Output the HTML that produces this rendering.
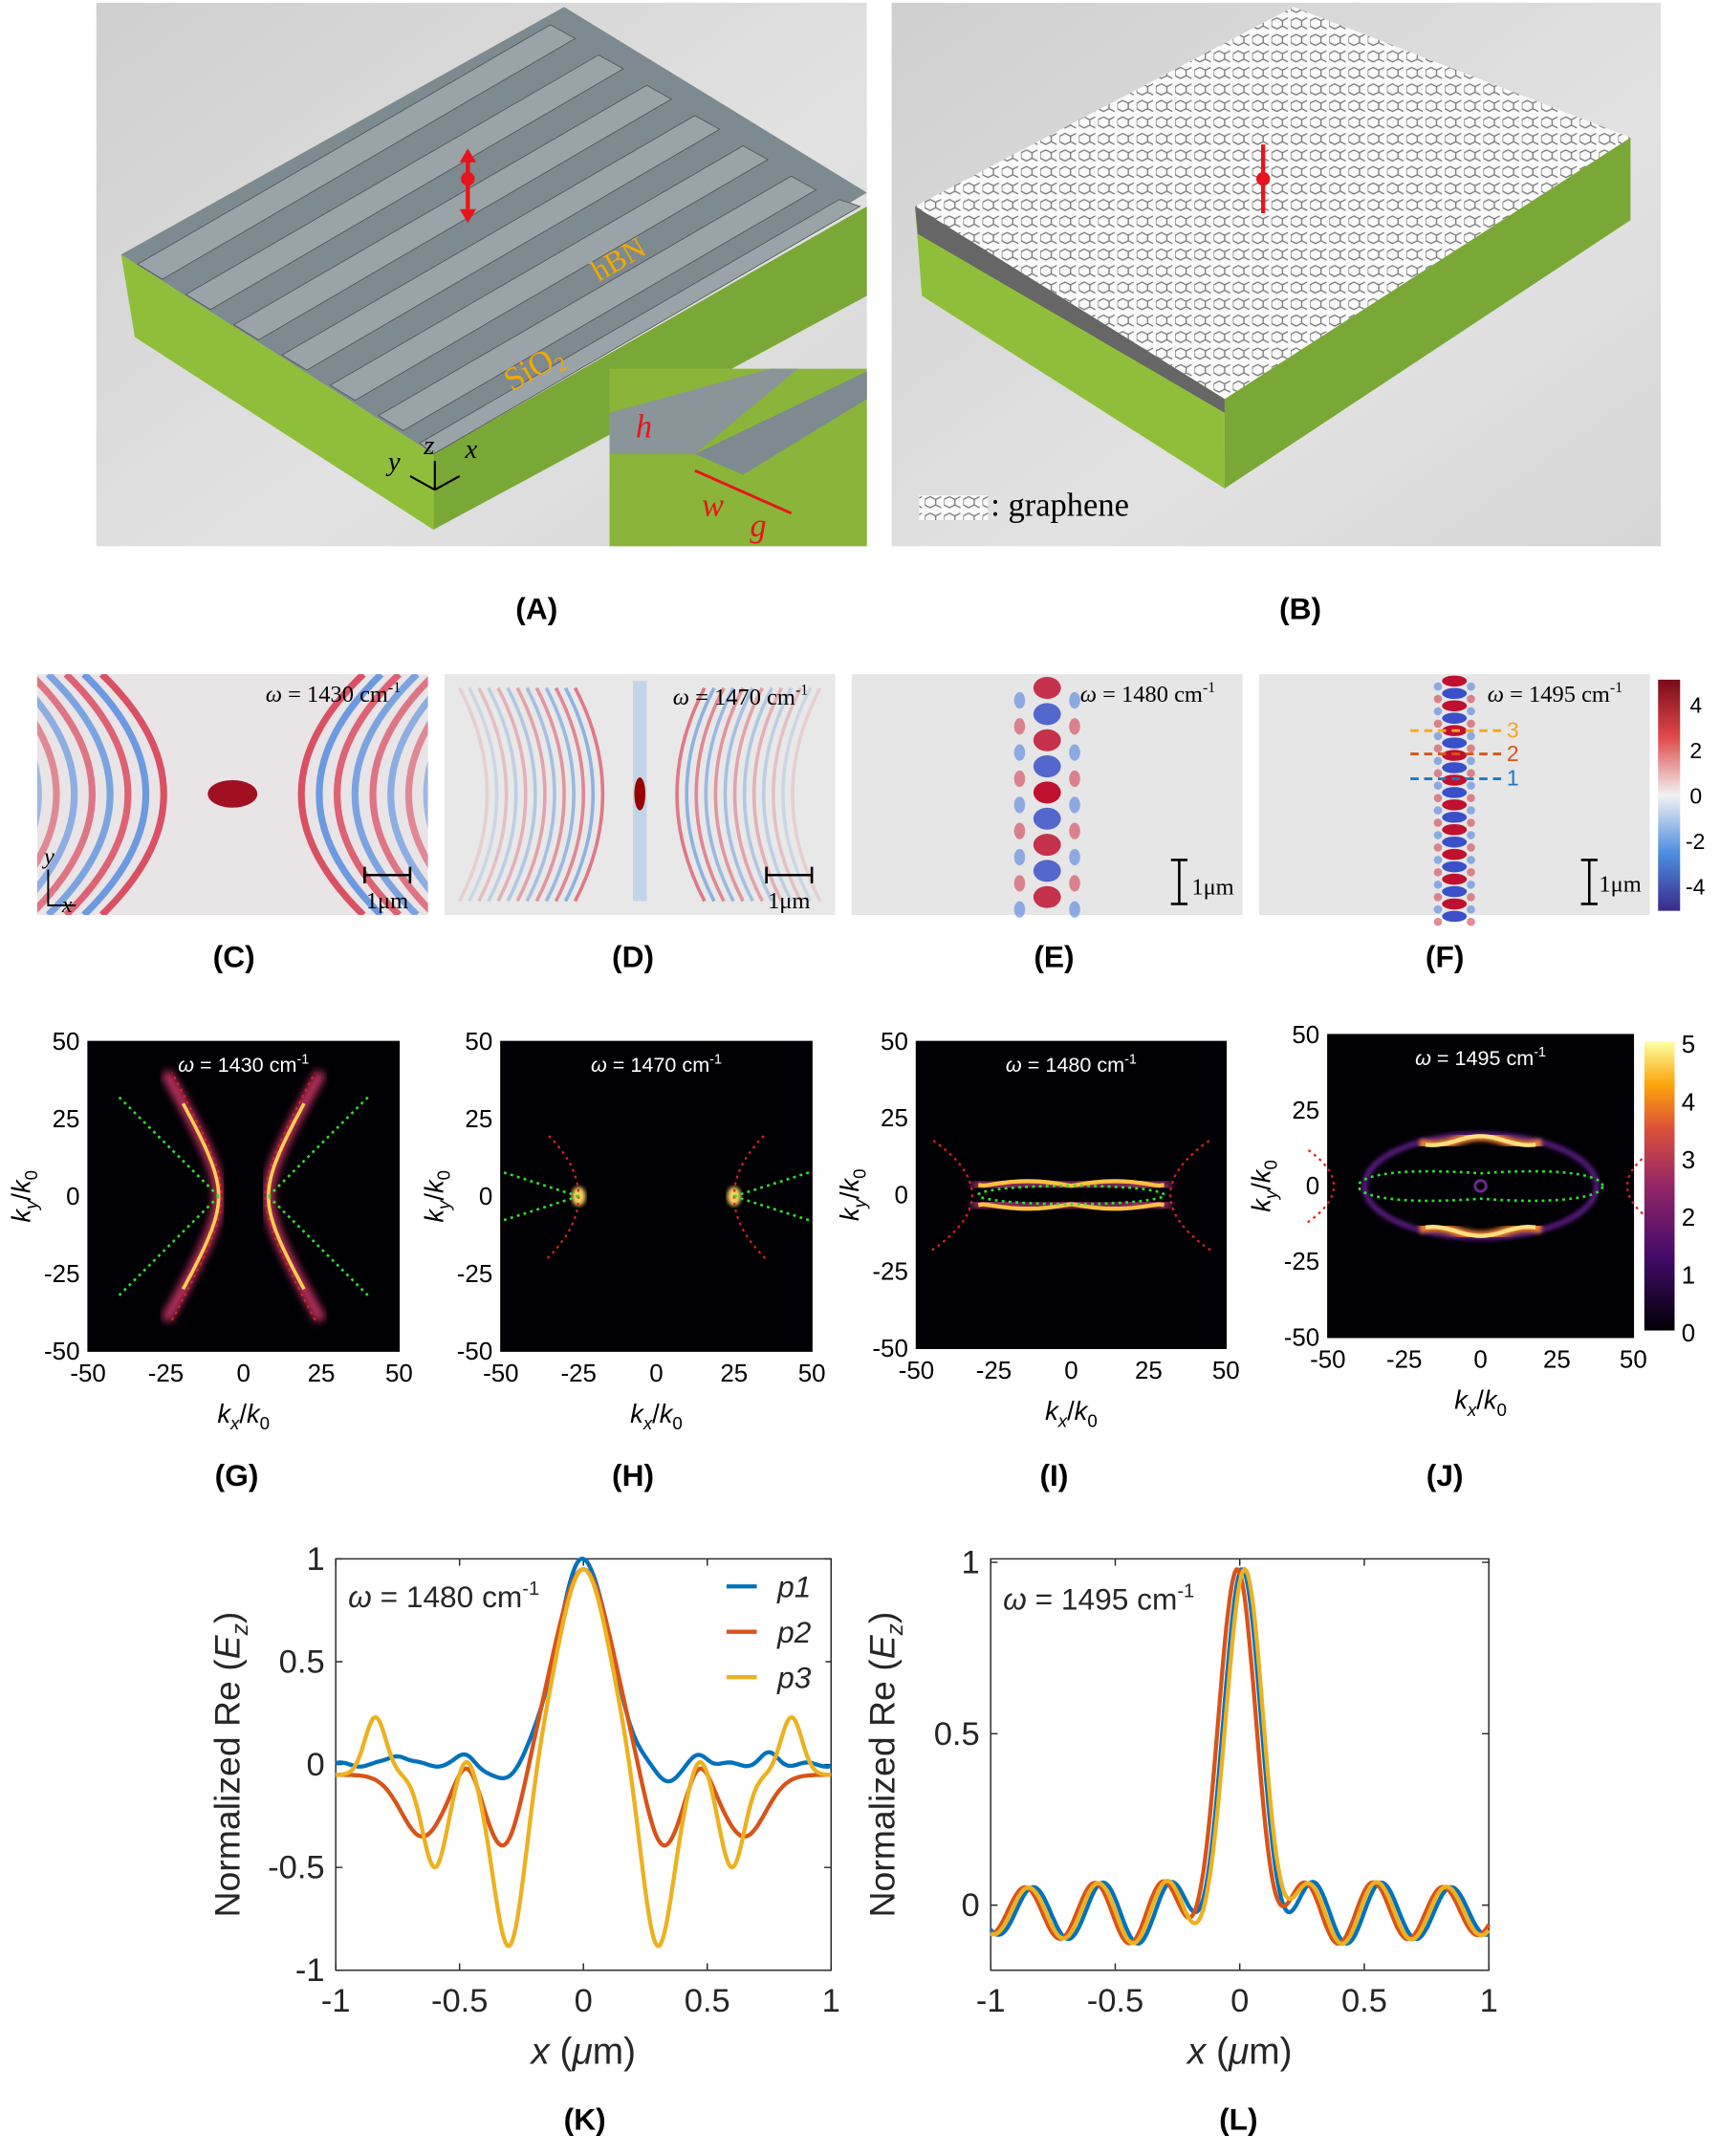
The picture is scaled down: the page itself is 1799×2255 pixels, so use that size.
<!DOCTYPE html>
<html><head><meta charset="utf-8"><style>
html,body{margin:0;padding:0;background:#fff;}
svg{display:block;font-family:"Liberation Sans",sans-serif;}
</style></head><body>
<svg id="s" width="1799" height="2255" viewBox="0 0 1250 1567" preserveAspectRatio="none" xmlns="http://www.w3.org/2000/svg">
<defs>
<linearGradient id="bgA" x1="0" y1="0" x2="1" y2="1"><stop offset="0" stop-color="#cfcfcf"/><stop offset="0.6" stop-color="#e2e2e2"/><stop offset="1" stop-color="#d6d6d6"/></linearGradient>
<pattern id="hex" width="14" height="12" patternUnits="userSpaceOnUse"><rect width="14" height="12" fill="#fafafa"/><path d="M0 3 L4 1 L8 3 L8 7 L4 9 L0 7Z M8 3 L12 1 M8 7 L12 9" fill="none" stroke="#777" stroke-width="0.9"/></pattern>
<linearGradient id="inf" x1="0" y1="1" x2="0" y2="0"><stop offset="0" stop-color="#000004"/><stop offset="0.25" stop-color="#420a68"/><stop offset="0.5" stop-color="#932667"/><stop offset="0.7" stop-color="#dd513a"/><stop offset="0.85" stop-color="#fca50a"/><stop offset="1" stop-color="#fcffa4"/></linearGradient>
<linearGradient id="rb" x1="0" y1="1" x2="0" y2="0"><stop offset="0" stop-color="#3a2a8a"/><stop offset="0.25" stop-color="#4d8ee0"/><stop offset="0.5" stop-color="#f2f2f2"/><stop offset="0.75" stop-color="#e04a4a"/><stop offset="1" stop-color="#7a0a1a"/></linearGradient>
<filter id="gl"><feGaussianBlur stdDeviation="1.5"/></filter>
<filter id="gl2"><feGaussianBlur stdDeviation="3"/></filter>
<clipPath id="cC"><rect x="27" y="490" width="284" height="175"/></clipPath>
<clipPath id="cD"><rect x="323" y="490" width="284" height="175"/></clipPath>
</defs>

<!-- Panel A -->
<rect x="70" y="2" width="560" height="395" fill="url(#bgA)"/>
<polygon points="88,185 410,5 630,140 315,330" fill="#7d8a8f"/>
<polygon points="88,185 315,330 315,385 98,245" fill="#8fbf3a"/>
<polygon points="315,330 630,150 630,215 315,385" fill="#7aa836"/>
<g fill="#9aa3a8" stroke="#555" stroke-width="0.6">
<polygon points="100,192 400,18 418,28 118,203"/>
<polygon points="135,214 435,40 453,50 153,225"/>
<polygon points="170,236 470,62 488,72 188,247"/>
<polygon points="205,258 505,84 523,94 223,269"/>
<polygon points="240,280 540,106 558,116 258,291"/>
<polygon points="275,302 575,128 593,138 293,313"/>
<polygon points="305,322 610,145 625,150 315,330"/>
</g>
<rect x="443" y="268" width="187" height="129" fill="#8ab53a"/>
<polygon points="505,330 630,270 630,290 540,345" fill="#7d8a8f"/>
<polygon points="443,300 560,268 580,268 505,330 443,330" fill="#8a9599"/>
<path d="M340 110 L340 160" stroke="#e8141b" stroke-width="3"/><circle cx="340" cy="130" r="5" fill="#e8141b"/>
<path d="M334 118 L340 108 L346 118 M334 152 L340 162 L346 152" fill="#e8141b"/>
<text x="435" y="205" fill="#f2a900" font-family="Liberation Serif" font-size="22" transform="rotate(-30 435 205)">hBN</text>
<text x="372" y="285" fill="#f2a900" font-family="Liberation Serif" font-size="24" transform="rotate(-30 372 285)">SiO<tspan font-size="15" dy="5">2</tspan></text>
<text x="462" y="318" fill="#e8141b" font-family="Liberation Serif" font-style="italic" font-size="24">h</text>
<text x="510" y="375" fill="#e8141b" font-family="Liberation Serif" font-style="italic" font-size="24">w</text>
<text x="545" y="390" fill="#e8141b" font-family="Liberation Serif" font-style="italic" font-size="24">g</text>
<path d="M505 342 L575 373" stroke="#e8141b" stroke-width="2"/>
<g font-family="Liberation Serif" font-style="italic" font-size="20"><text x="282" y="342">y</text><text x="308" y="330">z</text><text x="338" y="333">x</text></g>
<path d="M316 356 L316 335 M316 356 L298 346 M316 356 L334 346" stroke="#000" stroke-width="1.5"/>
<text x="390" y="450" font-size="22" font-weight="bold" text-anchor="middle">(A)</text>

<!-- Panel B -->
<rect x="648" y="2" width="559" height="395" fill="url(#bgA)"/>
<polygon points="665,150 940,5 1185,100 890,290" fill="url(#hex)"/>
<polygon points="665,150 890,290 890,355 670,215" fill="#8fbf3a"/>
<polygon points="890,290 1185,100 1185,160 890,355" fill="#7aa836"/>
<polygon points="665,150 890,290 890,300 667,170" fill="#666"/>
<path d="M918 105 L918 155" stroke="#e8141b" stroke-width="3"/><circle cx="918" cy="130" r="5" fill="#e8141b"/>
<rect x="668" y="360" width="50" height="18" fill="url(#hex)"/>
<text x="720" y="375" font-family="Liberation Serif" font-size="24">: graphene</text>
<text x="945" y="450" font-size="22" font-weight="bold" text-anchor="middle">(B)</text>

<!-- C-F -->
<rect x="27" y="490" width="284" height="175" fill="#e9e4e6"/>
<g clip-path="url(#cC)" id="gC"></g>
<rect x="323" y="490" width="284" height="175" fill="#e8e8e8"/>
<g clip-path="url(#cD)" id="gD"></g>
<rect x="619" y="490" width="284" height="175" fill="#e6e6e6"/>
<g id="gE"></g>
<rect x="915" y="490" width="284" height="175" fill="#e6e6e6"/>
<g id="gF"></g>
<g font-family="Liberation Serif" font-size="17">
<text x="193" y="510"><tspan font-style="italic">ω</tspan> = 1430 cm<tspan font-size="11" dy="-7">-1</tspan></text>
<text x="489" y="512"><tspan font-style="italic">ω</tspan> = 1470 cm<tspan font-size="11" dy="-7">-1</tspan></text>
<text x="785" y="510"><tspan font-style="italic">ω</tspan> = 1480 cm<tspan font-size="11" dy="-7">-1</tspan></text>
<text x="1081" y="510"><tspan font-style="italic">ω</tspan> = 1495 cm<tspan font-size="11" dy="-7">-1</tspan></text>
<text x="266" y="660">1μm</text><text x="558" y="660">1μm</text><text x="866" y="650">1μm</text><text x="1162" y="648">1μm</text>
<text x="32" y="628" font-style="italic">y</text><text x="45" y="663" font-style="italic">x</text>
</g>
<path d="M35 632 L35 658 L55 658" fill="none" stroke="#000" stroke-width="1.3"/>
<g stroke="#000" stroke-width="1.8"><path d="M265 636 L298 636 M265 630 L265 642 M298 630 L298 642"/><path d="M557 636 L590 636 M557 630 L557 642 M590 630 L590 642"/><path d="M857 625 L857 657 M851 625 L863 625 M851 657 L863 657"/><path d="M1155 625 L1155 657 M1149 625 L1161 625 M1149 657 L1161 657"/></g>
<g stroke-width="2" stroke-dasharray="6,4" font-size="15"><path d="M1025 531 L1095 531" stroke="#f5a623"/><path d="M1025 548 L1095 548" stroke="#d95319"/><path d="M1025 566 L1095 566" stroke="#1f77c4"/></g>
<text x="1095" y="536" fill="#f5a623" font-size="16">3</text><text x="1095" y="553" fill="#d95319" font-size="16">2</text><text x="1095" y="571" fill="#1f77c4" font-size="16">1</text>
<rect x="1205" y="494" width="16" height="168" fill="url(#rb)"/>
<g font-size="16"><text x="1228" y="518">4</text><text x="1228" y="551">2</text><text x="1228" y="584">0</text><text x="1225" y="617">-2</text><text x="1225" y="650">-4</text></g>
<g font-size="22" font-weight="bold" text-anchor="middle"><text x="170" y="703">(C)</text><text x="460" y="703">(D)</text><text x="766" y="703">(E)</text><text x="1050" y="703">(F)</text></g>

<!-- G-J -->
<g id="gk"></g>
<rect x="1195" y="757" width="22" height="210" fill="url(#inf)"/>
<g font-size="18"><text x="1222" y="765">5</text><text x="1222" y="807">4</text><text x="1222" y="849">3</text><text x="1222" y="891">2</text><text x="1222" y="933">1</text><text x="1222" y="975">0</text></g>
<g font-size="22" font-weight="bold" text-anchor="middle"><text x="172" y="1080">(G)</text><text x="460" y="1080">(H)</text><text x="766" y="1080">(I)</text><text x="1050" y="1080">(J)</text></g>

<!-- K L -->
<g id="gKL"></g>
<g font-size="22" font-weight="bold" text-anchor="middle"><text x="425" y="1548">(K)</text><text x="900" y="1548">(L)</text></g>
</svg>
<script>
var NS="http://www.w3.org/2000/svg";
function el(p,t,a,txt){var e=document.createElementNS(NS,t);for(var k in a)e.setAttribute(k,a[k]);if(txt!=null)e.textContent=txt;document.getElementById(p).appendChild(e);return e;}
// C: hyperbolic arcs
for(var i=1;i<14;i++){for(var s of[-1,1]){var cx=169+s*(i*13+12),col=i%2?"#d9465a":"#5a8ee0";
 el("gC","path",{d:"M"+(cx+s*70)+" 490 Q"+(cx-s*20)+" 577 "+(cx+s*70)+" 665",fill:"none",stroke:col,"stroke-width":5,opacity:Math.max(0.3,1-i*0.06)});}}
el("gC","ellipse",{cx:169,cy:577,rx:18,ry:10,fill:"#a01020"});
// D
for(var i=1;i<14;i++){for(var s of[-1,1]){var cx=465+s*i*7;el("gD","path",{d:"M"+(cx+s*40)+" 500 Q"+cx+" 577 "+(cx+s*40)+" 655",fill:"none",stroke:i%2?"#e07080":"#80a8e0","stroke-width":2.5,opacity:1-i*0.06});}}
el("gD","rect",{x:460,y:495,width:10,height:160,fill:"#a8c8e8",opacity:0.6});
el("gD","ellipse",{cx:465,cy:577,rx:4,ry:12,fill:"#900"});
// E, F
for(var j=0;j<9;j++){var y=500+j*19;el("gE","ellipse",{cx:761,cy:y,rx:10,ry:8,fill:j%2?"#3a50c8":"#c01030",opacity:j==4?1:0.85});
 el("gE","ellipse",{cx:741,cy:y+9,rx:4,ry:6,fill:j%2?"#d04050":"#5080e0",opacity:0.6});el("gE","ellipse",{cx:781,cy:y+9,rx:4,ry:6,fill:j%2?"#d04050":"#5080e0",opacity:0.6});}
for(var j=0;j<20;j++){var y=495+j*9;el("gF","ellipse",{cx:1057,cy:y,rx:9,ry:4,fill:j%2?"#3a50c8":"#c01030"});
 el("gF","ellipse",{cx:1045,cy:y+4,rx:3,ry:3,fill:j%2?"#d04050":"#5080e0",opacity:0.6});el("gF","ellipse",{cx:1069,cy:y+4,rx:3,ry:3,fill:j%2?"#d04050":"#5080e0",opacity:0.6});}
// k-space plots
var P=[[64,757,226,225],[364,757,226,225],[666,757,225,223],[965,752,222,220]];
function mk(pi){var p=P[pi];return function(kx,ky){return [p[0]+(kx+50)/100*p[2],p[1]+(50-ky)/100*p[3]];};}
function line(f,pts,a){var d="";pts.forEach(function(q,i){var m=f(q[0],q[1]);d+=(i?"L":"M")+m[0].toFixed(1)+" "+m[1].toFixed(1);});a.d=d;a.fill=a.fill||"none";return el("gk","path",a);}
function rng(a,b,n,fn){var r=[];for(var i=0;i<=n;i++){r.push(fn(a+(b-a)*i/n));}return r;}
P.forEach(function(p,i){el("gk","rect",{x:p[0],y:p[1],width:p[2],height:p[3],fill:"#000004",stroke:"#000"});
 var f=mk(i);
 [-50,-25,0,25,50].forEach(function(v){var a=f(v,-50);el("gk","text",{x:a[0],y:p[1]+p[3]+22,"font-size":18,"text-anchor":"middle"},v);
  var b=f(-50,v);el("gk","text",{x:p[0]-6,y:b[1]+6,"font-size":18,"text-anchor":"end"},v);});
 var cx=p[0]+p[2]/2;
 var t=el("gk","text",{x:cx,y:p[1]+p[3]+52,"font-size":19,"text-anchor":"middle"});t.innerHTML='<tspan font-style="italic">k</tspan><tspan font-size="13" dy="5" font-style="italic">x</tspan><tspan dy="-5">/</tspan><tspan font-style="italic">k</tspan><tspan font-size="13" dy="5">0</tspan>';
 var cy=p[1]+p[3]/2,tx=p[0]-42;
 var t2=el("gk","text",{x:tx,y:cy,"font-size":19,"text-anchor":"middle",transform:"rotate(-90 "+tx+" "+cy+")"});t2.innerHTML='<tspan font-style="italic">k</tspan><tspan font-size="13" dy="5" font-style="italic">y</tspan><tspan dy="-5">/</tspan><tspan font-style="italic">k</tspan><tspan font-size="13" dy="5">0</tspan>';
 var w=["1430","1470","1480","1495"][i];
 var t3=el("gk","text",{x:cx,y:p[1]+22,"font-size":15,fill:"#fff","text-anchor":"middle"});t3.innerHTML='<tspan font-style="italic">ω</tspan> = '+w+' cm<tspan font-size="10" dy="-6">-1</tspan>';
});
// G
var f=mk(0);
[-1,1].forEach(function(s){
 line(f,rng(-40,40,60,function(y){return[s*Math.sqrt(64+0.35*y*y),y];}),{stroke:"#c03060","stroke-width":8,filter:"url(#gl2)"});
 line(f,rng(-30,30,50,function(y){return[s*Math.sqrt(64+0.35*y*y),y];}),{stroke:"#fbd050","stroke-width":2.5});
 line(f,[[s*8,0],[s*40,32]],{stroke:"#2ee02e","stroke-width":1.8,"stroke-dasharray":"2,3"});
 line(f,[[s*8,0],[s*40,-32]],{stroke:"#2ee02e","stroke-width":1.8,"stroke-dasharray":"2,3"});
 line(f,rng(-40,40,40,function(y){return[s*Math.sqrt(49+0.3*y*y),y];}),{stroke:"#e02020","stroke-width":1.5,"stroke-dasharray":"2,3"});
});
line(f,[[-6,0],[6,0]],{stroke:"#7a2a80","stroke-width":6,filter:"url(#gl)"});
// H
f=mk(1);
line(f,[[-22,0],[22,0]],{stroke:"#5a1a70","stroke-width":6,filter:"url(#gl)"});
[-1,1].forEach(function(s){
 var a=f(s*25,0);el("gk","ellipse",{cx:a[0],cy:a[1],rx:5,ry:7,fill:"#fcd060",filter:"url(#gl)"});
 line(f,rng(-20,20,30,function(y){return[s*(25+0.025*y*y),y];}),{stroke:"#e02020","stroke-width":1.5,"stroke-dasharray":"2,3"});
 line(f,[[s*25,0],[s*50,8]],{stroke:"#2ee02e","stroke-width":1.8,"stroke-dasharray":"2,3"});
 line(f,[[s*25,0],[s*50,-8]],{stroke:"#2ee02e","stroke-width":1.8,"stroke-dasharray":"2,3"});
});
// I
f=mk(2);
[-1,1].forEach(function(s){
 line(f,rng(-32,32,40,function(x){return[x,s*(2.5+2*Math.sqrt(Math.max(0,1-x*x/1024))*Math.abs(Math.sin(x/8)))];}),{stroke:"#a03070","stroke-width":8,filter:"url(#gl2)"});
 line(f,rng(-30,30,40,function(x){return[x,s*(3+1.5*Math.abs(Math.sin(x/9)))];}),{stroke:"#fbc040","stroke-width":3});
 line(f,rng(-18,18,30,function(y){return[s*(32+0.04*y*y),y];}),{stroke:"#e02020","stroke-width":1.5,"stroke-dasharray":"2,3"});
});
line(f,rng(0,6.283,60,function(t){return[30*Math.cos(t),3*Math.sin(t)];}),{stroke:"#2ee02e","stroke-width":1.8,"stroke-dasharray":"2,3"});
// J
f=mk(3);
line(f,rng(0,6.283,80,function(t){return[38*Math.cos(t),17*Math.sin(t)];}),{stroke:"#5a1a80","stroke-width":4,filter:"url(#gl)"});
[-1,1].forEach(function(s){
 line(f,rng(-20,20,30,function(x){return[x,s*(15+1.5*Math.cos(x/5))];}),{stroke:"#f08030","stroke-width":7,filter:"url(#gl)"});
 line(f,rng(-18,18,30,function(x){return[x,s*(15+1.5*Math.cos(x/5))];}),{stroke:"#fce080","stroke-width":3});
 line(f,rng(-12,12,20,function(y){return[s*(48+0.06*y*y),y];}),{stroke:"#e02020","stroke-width":1.5,"stroke-dasharray":"2,3"});
});
line(f,rng(0,6.283,80,function(t){return[40*Math.cos(t),7*Math.sin(t)*(0.6+0.4*Math.abs(Math.cos(t)))];}),{stroke:"#2ee02e","stroke-width":1.8,"stroke-dasharray":"2,3"});
var a=f(0,0);el("gk","circle",{cx:a[0],cy:a[1],r:4,fill:"none",stroke:"#6a2a90","stroke-width":2});
// K & L
function axes(x0,y0,w,h,xt,yt,ymin,ymax){
 el("gKL","rect",{x:x0,y:y0,width:w,height:h,fill:"#fff",stroke:"#262626","stroke-width":1});
 xt.forEach(function(v){var x=x0+(v+1)/2*w;el("gKL","text",{x:x,y:y0+h+30,"font-size":24,"text-anchor":"middle",fill:"#262626"},v);el("gKL","path",{d:"M"+x+" "+(y0+h)+"v-5M"+x+" "+y0+"v5",stroke:"#262626"});});
 yt.forEach(function(v){var y=y0+(ymax-v)/(ymax-ymin)*h;el("gKL","text",{x:x0-8,y:y+8,"font-size":24,"text-anchor":"end",fill:"#262626"},v);el("gKL","path",{d:"M"+x0+" "+y+"h5M"+(x0+w)+" "+y+"h-5",stroke:"#262626"});});
 var t=el("gKL","text",{x:x0+w/2,y:y0+h+68,"font-size":27,"text-anchor":"middle",fill:"#262626"});t.innerHTML='<tspan font-style="italic">x</tspan> (<tspan font-style="italic">μ</tspan>m)';
 var cx=x0-70,cy=y0+h/2;var t2=el("gKL","text",{x:cx,y:cy,"font-size":26,"text-anchor":"middle",fill:"#262626",transform:"rotate(-90 "+cx+" "+cy+")"});t2.innerHTML='Normalized Re (<tspan font-style="italic">E</tspan><tspan font-size="17" dy="6" font-style="italic">z</tspan><tspan dy="-6">)</tspan>';
 return function(fn,col){var d="";for(var i=0;i<=300;i++){var xv=-1+i/150,yv=fn(xv);d+=(i?"L":"M")+(x0+(xv+1)/2*w).toFixed(1)+" "+(y0+(ymax-yv)/(ymax-ymin)*h).toFixed(1);}el("gKL","path",{d:d,fill:"none",stroke:col,"stroke-width":3});};
}
function g(x,c,s){return Math.exp(-Math.pow((x-c)/s,2));}
var K=axes(244,1133,360,299,[-1,-0.5,0,0.5,1],[-1,-0.5,0,0.5,1],-1,1);
K(function(x){var a=Math.abs(x);return g(x,0,0.15)+0.05*g(a,0.47,0.05)+0.05*g(a,0.75,0.05)-0.08*g(a,0.33,0.08)-0.01*Math.sin(x*40);},"#0072bd");
K(function(x){var a=Math.abs(x);return g(x,0,0.17)-0.37*g(a,0.32,0.1)-0.3*g(a,0.65,0.12)-0.05+0.1*g(a,0.47,0.06);},"#d95319");
K(function(x){var a=Math.abs(x);return g(x,0,0.15)-0.85*g(a,0.3,0.09)+0.1*g(a,0.47,0.05)-0.45*g(a,0.6,0.07)+0.28*g(a,0.84,0.06)-0.05;},"#edb120");
var L=axes(720,1133,362,299,[-1,-0.5,0,0.5,1],[0,0.5,1],-0.19,1.01);
[["#0072bd",0.01,0.0],["#d95319",-0.01,0.6],["#edb120",0.02,1.3]].forEach(function(c){
 L(function(x){var xx=x-c[1];return g(xx,0,0.1)+0.12*Math.cos(xx*2*Math.PI/0.28+c[2]*0.5)*(1-g(xx,0,0.2))*Math.exp(-Math.abs(xx)*0.6)-0.02;},c[0]);});
el("gKL","rect",{x:520,y:1138,width:80,height:95,fill:"#fff"});
[["#0072bd","p1",1153],["#d95319","p2",1186],["#edb120","p3",1219]].forEach(function(l){el("gKL","path",{d:"M528 "+l[2]+"h22",stroke:l[0],"stroke-width":3});el("gKL","text",{x:565,y:l[2]+8,"font-size":22,"font-style":"italic",fill:"#262626"},l[1]);});
var t=el("gKL","text",{x:253,y:1168,"font-size":22,fill:"#262626"});t.innerHTML='<tspan font-style="italic">ω</tspan> = 1480 cm<tspan font-size="14" dy="-9">-1</tspan>';
var t=el("gKL","text",{x:729,y:1170,"font-size":22,fill:"#262626"});t.innerHTML='<tspan font-style="italic">ω</tspan> = 1495 cm<tspan font-size="14" dy="-9">-1</tspan>';
</script>
</body></html>
